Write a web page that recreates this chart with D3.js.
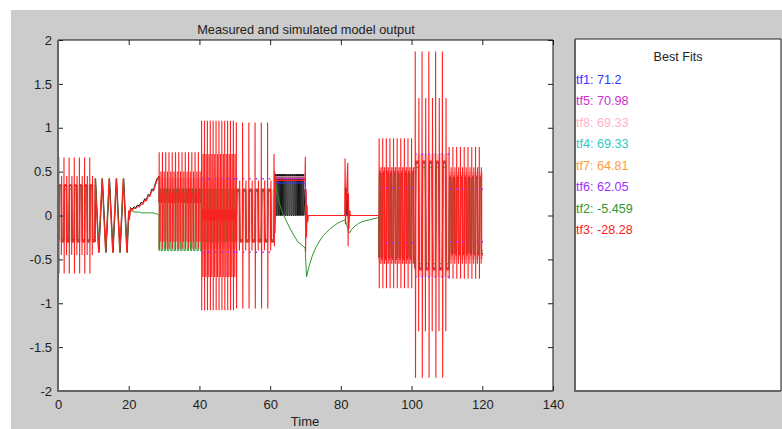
<!DOCTYPE html>
<html>
<head>
<meta charset="utf-8">
<script src="https://cdn.jsdelivr.net/npm/d3@7"></script>
<style>
  body { margin: 0; background: #fff; }
  text { font-family: "Liberation Sans", Arial, sans-serif; fill: #222; }
</style>
</head>
<body>
<svg width="782" height="429"></svg>
<script>
// ---- data ----
var xTicks = [0, 20, 40, 60, 80, 100, 120, 140];
var yTicks = [-2, -1.5, -1, -0.5, 0, 0.5, 1, 1.5, 2];

var modelNames  = ["tf1", "tf5", "tf8", "tf4", "tf7", "tf6", "tf2", "tf3"];
var modelFits   = ["71.2", "70.98", "69.33", "69.33", "64.81", "62.05", "-5.459", "-28.28"];
var modelColors = ["#3434ff", "#cc2fcc", "#ffb3c4", "#2fc8c8", "#ff9a40", "#9933ff", "#2f962f", "#ff2020"];

// square-wave blocks of the experiment
var pulseStart = [0.2, 28.6, 40.6, 50.4, 90.8, 101.0, 110.6];
var pulseEnd   = [10.4, 40.6, 50.4, 61.0, 101.0, 110.6, 120.2];
var pulseCount = [7, 13, 12, 6, 10, 5, 9];

// measured output levels
var measUp   = [0.34, 0.3, 0.06, 0.28, 0.48, 0.6, 0.43];
var measDown = [-0.28, 0.15, -0.05, -0.28, -0.48, -0.6, -0.43];

// tf3 settled levels and ringing peaks
var redUp  = [0.35, 0.25, 0.06, 0.3, 0.5, 0.62, 0.45];
var redDown = [-0.3, 0.15, -0.05, -0.3, -0.5, -0.62, -0.45];
var redHi  = [0.66, 0.72, 1.08, 1.06, 0.88, 1.87, 0.78];
var redLo  = [-0.66, -0.38, -1.08, -1.06, -0.83, -1.85, -0.72];
var redHi2 = [0.45, 0.5, 0.7, 0.4, 0.55, 1.34, 0.55];
var redLo2 = [-0.45, -0.3, -0.7, -0.4, -0.55, -1.32, -0.55];

// band where the good fits (tf1 tf4 tf5 tf7 tf8) pile up
var bandHi = [0.35, 0.43, 0.43, 0.3, 0.55, 0.7, 0.5];
var bandLo = [-0.3, 0.2, -0.38, -0.3, -0.55, -0.7, -0.5];

// tf2 levels
var greenUp   = [0.3, 0.3, 0.3, 0.3, 0.45, 0.55, 0.4];
var greenDown = [-0.3, -0.4, -0.3, -0.3, -0.45, -0.55, -0.4];

// tf6 dotted level (+/-)
var purpleLevel = [0, 0, 0.42, 0.42, 0.31, 0.7, 0.3];

// triangle block (t 10-20)
var triT = [10.4, 10.55, 11.5, 12.5, 13.5, 14.5, 15.5, 16.5, 17.5, 18.5, 19.5, 20.0];
var triY = [-0.3, 0.42, -0.42, 0.42, -0.42, 0.42, -0.42, 0.42, -0.42, 0.42, -0.42, 0.05];

// slow ramp block (t 20-28.6)
var rampT     = [20.0, 20.2, 20.5, 21, 21.5, 22, 22.5, 23, 23.5, 24, 24.5, 25, 25.5, 26, 26.5, 27, 27.5, 28, 28.6];
var rampMeas  = [0.05, -0.02, 0.09, 0.07, 0.1, 0.09, 0.12, 0.11, 0.15, 0.14, 0.19, 0.18, 0.24, 0.23, 0.3, 0.29, 0.36, 0.42, 0.45];
var rampRed   = [0.05, -0.05, 0.08, 0.06, 0.08, 0.08, 0.1, 0.1, 0.13, 0.13, 0.17, 0.17, 0.22, 0.22, 0.28, 0.28, 0.34, 0.4, 0.44];
var rampGreen = [0.05, 0.03, 0.05, 0.05, 0.04, 0.04, 0.04, 0.04, 0.03, 0.03, 0.03, 0.03, 0.03, 0.03, 0.03, 0.03, 0.02, 0.02, 0.0];

// hold block (t 61-70): measured chatters, fits sit flat
var noiseStart = 61.4, noiseEnd = 69.8, noiseCount = 14, noiseHi = 0.47, noiseLo = 0.0;
var holdNames = ["tf8", "tf5", "tf1"];
var holdLevel = [0.44, 0.42, 0.37];

// t 61-91 for tf3, measured and tf2
var redMidT = [61.0, 61.1, 61.2, 61.3, 61.4, 61.55, 61.7, 69.85, 69.95, 70.05, 70.15, 70.3, 70.45, 70.6, 70.8, 81.1, 81.2, 81.3, 81.95, 82.05, 82.15, 82.3, 82.5, 82.7, 90.8];
var redMidY = [-0.3, 0.7, -0.35, 0.5, -0.2, 0.45, 0.40, 0.40, 0.67, -0.41, 0.3, -0.25, 0.12, -0.08, 0, 0, 0.65, -0.1, 0.6, -0.35, 0.25, -0.15, 0.06, 0, 0];
var measMidT = [69.9, 70.0, 70.2, 81.2, 81.3, 81.45, 81.6, 81.75, 82.0, 82.1, 90.8];
var measMidY = [0.3, -0.1, 0, 0, 0.32, 0.02, 0.3, 0.0, 0.25, 0, 0];
var greenMidT = [61.3, 61.8, 62.5, 63.3, 64.2, 65.4, 66.6, 67.8, 69.9, 70.3, 71, 72, 73, 74, 75, 76, 77, 78, 79, 80, 81.2, 82.4, 83, 84, 85, 86, 88, 90, 90.8];
var greenMidY = [0.42, 0.29, 0.16, 0.05, -0.03, -0.13, -0.22, -0.3, -0.37, -0.7, -0.58, -0.45, -0.36, -0.29, -0.23, -0.19, -0.15, -0.12, -0.09, -0.07, -0.05, -0.2, -0.16, -0.12, -0.09, -0.07, -0.05, -0.03, -0.02];

// ---- layout ----
var svg = d3.select("svg");
var x = d3.scaleLinear().domain([0, 140]).range([58, 553]);
var y = d3.scaleLinear().domain([-2, 2]).range([391, 40]);

svg.append("rect").attr("x", 11).attr("y", 10).attr("width", 771).attr("height", 419).attr("fill", "#cccccc");
svg.append("rect").attr("x", 58).attr("y", 40).attr("width", 495).attr("height", 351).attr("fill", "#fff");

function zip(ts, ys, dt) {
  return ts.map(function(t, i) { return [t + (dt || 0), ys[i]]; });
}

function pulsePoints(i, up, down, hi, lo, hi2, lo2) {
  var pts = [], s = pulseStart[i], P = (pulseEnd[i] - s) / pulseCount[i];
  for (var k = 0; k < pulseCount[i]; k++) {
    var t0 = s + k * P;
    pts.push([t0, down[i]]);
    if (hi) pts.push([t0 + 0.02 * P, hi[i]], [t0 + 0.06 * P, lo[i]]);
    pts.push([t0 + 0.1 * P, up[i]], [t0 + 0.5 * P, up[i]]);
    if (hi2) pts.push([t0 + 0.52 * P, lo2[i]], [t0 + 0.56 * P, hi2[i]]);
    pts.push([t0 + 0.6 * P, down[i]]);
  }
  pts.push([pulseEnd[i], down[i]]);
  return pts;
}

function noisePoints() {
  var pts = [], P = (noiseEnd - noiseStart) / noiseCount;
  for (var k = 0; k < noiseCount; k++) {
    var t0 = noiseStart + k * P;
    pts.push([t0, noiseLo], [t0 + 0.05 * P, noiseHi], [t0 + 0.3 * P, noiseHi - 0.06],
             [t0 + 0.5 * P, noiseHi], [t0 + 0.55 * P, noiseLo]);
  }
  return pts;
}

var line = d3.line().x(function(d) { return x(d[0]); }).y(function(d) { return y(d[1]); });
var plot = svg.append("g");

// band of overlapping good fits
pulseStart.forEach(function(s, i) {
  plot.append("path")
      .datum([[s, bandHi[i]], [pulseEnd[i], bandHi[i]]])
      .attr("d", d3.area().x(function(d) { return x(d[0]); }).y0(y(bandLo[i])).y1(function(d) { return y(d[1]); }))
      .attr("fill", "#ff8a8a").attr("opacity", 0.45);
});

// measured output
var meas = [[0, 0]]
  .concat(pulsePoints(0, measUp, measDown))
  .concat(zip(triT, triY, 0.08))
  .concat(zip(rampT, rampMeas))
  .concat(pulsePoints(1, measUp, measDown), pulsePoints(2, measUp, measDown), pulsePoints(3, measUp, measDown))
  .concat(noisePoints())
  .concat(zip(measMidT, measMidY))
  .concat(pulsePoints(4, measUp, measDown), pulsePoints(5, measUp, measDown), pulsePoints(6, measUp, measDown));
plot.append("path").datum(meas).attr("d", line)
    .attr("fill", "none").attr("stroke", "#111").attr("stroke-width", 1);

// flat fits in the hold block, then back to zero
holdNames.forEach(function(name, i) {
  var c = modelColors[modelNames.indexOf(name)];
  plot.append("path")
      .datum([[61.5, holdLevel[i]], [69.9, holdLevel[i]], [70.3, 0], [90.8, 0]])
      .attr("d", line).attr("fill", "none").attr("stroke", c).attr("stroke-width", 1.1);
});

// tf2
var green = [[0, 0]]
  .concat(pulsePoints(0, greenUp, greenDown))
  .concat(zip(triT, triY))
  .concat(zip(rampT, rampGreen))
  .concat(pulsePoints(1, greenUp, greenDown), pulsePoints(2, greenUp, greenDown), pulsePoints(3, greenUp, greenDown))
  .concat(zip(greenMidT, greenMidY))
  .concat(pulsePoints(4, greenUp, greenDown), pulsePoints(5, greenUp, greenDown), pulsePoints(6, greenUp, greenDown));
plot.append("path").datum(green).attr("d", line)
    .attr("fill", "none").attr("stroke", modelColors[6]).attr("stroke-width", 1);

// tf3
function redBlock(i) { return pulsePoints(i, redUp, redDown, redHi, redLo, redHi2, redLo2); }
var red = [[0, 0]]
  .concat(redBlock(0))
  .concat(zip(triT, triY, -0.04))
  .concat(zip(rampT, rampRed))
  .concat(redBlock(1), redBlock(2), redBlock(3))
  .concat(zip(redMidT, redMidY))
  .concat(redBlock(4), redBlock(5), redBlock(6));
plot.append("path").datum(red).attr("d", line)
    .attr("fill", "none").attr("stroke", modelColors[7]).attr("stroke-width", 1.1);

// tf6 dotted levels
pulseStart.forEach(function(s, i) {
  if (!purpleLevel[i]) return;
  [purpleLevel[i], -purpleLevel[i]].forEach(function(v) {
    plot.append("path").datum([[s, v], [pulseEnd[i], v]]).attr("d", line)
        .attr("stroke", modelColors[5]).attr("stroke-width", 1.5).attr("stroke-dasharray", "1.5,5");
  });
});

// ---- axes ----
function styleAxis(g) {
  g.select(".domain").remove();
  g.selectAll("line").attr("stroke", "#222");
  g.selectAll("text").attr("font-size", 13).attr("font-family", "Liberation Sans, Arial, sans-serif").attr("fill", "#222");
}
svg.append("g").attr("transform", "translate(0,391)")
   .call(d3.axisBottom(x).tickValues(xTicks).tickSize(-5).tickPadding(9).tickFormat(function(d) { return String(d); }))
   .call(styleAxis);
svg.append("g").attr("transform", "translate(0,40)")
   .call(d3.axisTop(x).tickValues(xTicks).tickSize(-5).tickFormat(""))
   .call(styleAxis);
svg.append("g").attr("transform", "translate(58,0)")
   .call(d3.axisLeft(y).tickValues(yTicks).tickSize(-5).tickPadding(6).tickFormat(function(d) { return String(d); }))
   .call(styleAxis);
svg.append("g").attr("transform", "translate(553,0)")
   .call(d3.axisRight(y).tickValues(yTicks).tickSize(-5).tickFormat(""))
   .call(styleAxis);

// frame
svg.append("path").attr("d", "M58,40H553V391").attr("fill", "none").attr("stroke", "#111").attr("stroke-width", 1);
svg.append("path").attr("d", "M58,40V391H553").attr("fill", "none").attr("stroke", "#666").attr("stroke-width", 2);

svg.append("text").attr("x", 306).attr("y", 34).attr("text-anchor", "middle")
   .attr("font-size", 12.8).text("Measured and simulated model output");
svg.append("text").attr("x", 305).attr("y", 426).attr("text-anchor", "middle")
   .attr("font-size", 13).text("Time");

// ---- best fits panel ----
svg.append("rect").attr("x", 575).attr("y", 39).attr("width", 206).attr("height", 352).attr("fill", "#fff");
svg.append("path").attr("d", "M575,39H781V391").attr("fill", "none").attr("stroke", "#222").attr("stroke-width", 1);
svg.append("path").attr("d", "M575,39V391H781").attr("fill", "none").attr("stroke", "#666").attr("stroke-width", 2);
svg.append("text").attr("x", 678).attr("y", 61).attr("text-anchor", "middle")
   .attr("font-size", 12.6).text("Best Fits");

var fitScale = d3.scalePoint().domain(modelNames).range([83.5, 234]);
svg.append("g").selectAll("text").data(modelNames).enter().append("text")
   .attr("x", 576)
   .attr("y", function(d) { return fitScale(d); })
   .attr("font-size", 12.6)
   .style("fill", function(d, i) { return modelColors[i]; })
   .text(function(d, i) { return d + ": " + modelFits[i]; });
</script>
</body>
</html>
